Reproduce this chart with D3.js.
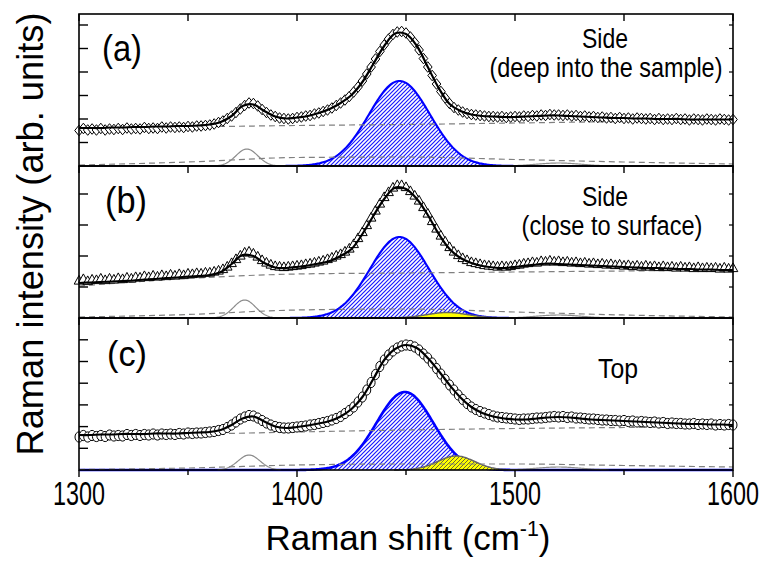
<!DOCTYPE html>
<html>
<head>
<meta charset="utf-8">
<style>
  body { margin: 0; background: #fff; }
  text { font-family: "Liberation Sans", Arial, sans-serif; fill: #000; }
</style>
</head>
<body>
<svg id="chart" width="762" height="567"></svg>
<script src="https://d3js.org/d3.v7.min.js"></script>
<script>
// ---- data (intensity in arb. units) ----
var xTicks = [1300, 1400, 1500, 1600];
var xMinorTicks = [1350, 1450, 1550];
var panelLabels = ["(a)", "(b)", "(c)"];
var panelNotes = [["Side", "(deep into the sample)"], ["Side", "(close to surface)"], ["Top"]];
var yTicksA = [23.5, 47, 70.5, 94, 117.5, 141];
var yTicksB = [31, 62, 93, 124];
var yTicksC = [21.7, 43.4, 65.1, 86.8, 108.5, 130.2];

// measured spectra, 1300..1600 cm-1 every 2 cm-1 (one row = 20 cm-1)
var intensityA = [
  35.5, 37.5, 36, 37, 36, 37.5, 36, 37, 36.5, 37.5,
  36.5, 38, 37, 37.5, 37, 38.5, 37.5, 38, 37.5, 39,
  38, 39, 38.5, 39, 38.5, 39.5, 39, 40, 40, 40.5,
  41, 42, 43.5, 45, 47.5, 50, 53.5, 57, 60.5, 63,
  62.5, 60, 56.5, 53.5, 51, 49.5, 48, 47.5, 47, 47.5,
  48.5, 49, 50, 50.5, 52, 53, 54.5, 56, 58, 60.5,
  63, 66, 69.5, 74, 79, 85, 92, 99, 107, 114.5,
  121, 127, 131.5, 134, 134.5, 133, 129, 123.5, 116, 107.5,
  99, 90.5, 82, 74.5, 68, 62.5, 58.5, 56, 54, 52.5,
  51.5, 51, 50.5, 50, 49.5, 49.5, 49, 49.5, 48.5, 49,
  49.5, 49, 50, 49.5, 50.5, 50, 51, 50.5, 51.5, 51,
  51, 50.5, 51, 50, 50.5, 49.5, 50, 49, 49.5, 48.5,
  49, 48, 48.5, 47.5, 48.5, 47.5, 48, 47, 48, 47.5,
  47, 47.5, 46.5, 47.5, 46.5, 47, 46.5, 47.5, 46.5, 47,
  46, 47, 46.5, 46, 47, 46.5, 46, 47, 46.5, 46,
  46.5];
var intensityB = [
  37, 38.5, 36.5, 38, 37.5, 39, 37.5, 39, 38, 39.5,
  38.5, 40, 39, 40.5, 40, 41.5, 40.5, 42, 41, 42.5,
  41.5, 43, 42, 43.5, 42.5, 44, 43.5, 44.5, 44, 45,
  45, 46, 47, 48.5, 51, 54.5, 58.5, 62, 65, 66,
  64, 61, 57.5, 55, 53, 51.5, 51, 50.5, 51, 51.5,
  52, 52.5, 53.5, 54, 55, 56, 57, 58.5, 60, 62,
  63.5, 66, 69, 73.5, 79.5, 85.5, 92.5, 100, 107, 114,
  120.5, 125.5, 130, 132.5, 132.5, 130.5, 126.5, 122, 117, 110.5,
  104, 96.5, 89, 82, 76, 70.5, 66, 62.5, 59.5, 57.5,
  55.5, 54.5, 53.5, 52.5, 52, 51.5, 51, 51.5, 51, 51.5,
  52.5, 53, 54, 54.5, 55.5, 55, 56.5, 56, 57, 56,
  56.5, 55.5, 56, 55, 55.5, 54.5, 55, 54, 54.5, 53.5,
  54, 53, 53.5, 52.5, 53, 52, 52.5, 51.5, 52, 51,
  52, 51, 51.5, 50.5, 51.5, 50.5, 51, 50, 51, 50,
  50.5, 49.5, 50.5, 49.5, 50, 49.5, 50, 49, 50, 49,
  49.5];
var intensityC = [
  33, 34.5, 33, 34.5, 33.5, 34.5, 33.5, 35, 34, 34.5,
  34, 35.5, 34.5, 35.5, 34.5, 35.5, 35, 36, 35, 36,
  35.5, 36, 35.5, 36.5, 36, 37, 36.5, 37, 37, 37.5,
  38, 38.5, 39.5, 40.5, 42.5, 45, 48, 51, 53, 54.5,
  54, 52, 49.5, 47, 45, 43.5, 42.5, 42, 42, 42.5,
  43, 43.5, 44, 45, 45.5, 46.5, 47.5, 48.5, 50, 51.5,
  53.5, 56.5, 59.5, 63, 68, 73, 80, 87.5, 95.5, 103.5,
  110, 115, 119, 122, 124, 125, 124.5, 123, 120, 116,
  112, 107, 101.5, 96, 90.5, 85, 80, 75, 70.5, 66.5,
  63, 60.5, 58.5, 57, 55.5, 54, 53, 52.5, 52, 51.5,
  51, 50.5, 51, 51, 51.5, 52, 52, 52.5, 53, 53.5,
  53, 53.5, 52.5, 53, 52, 52, 51.5, 51, 51, 50.5,
  50, 50, 49.5, 49.5, 49, 49.5, 48.5, 49, 48, 48.5,
  48, 47.5, 48, 47, 47.5, 46.5, 47, 46.5, 46.5, 46,
  46, 46.5, 45.5, 46, 45.5, 46, 45, 45.5, 45, 45.5,
  45];

// total fit, every 5 cm-1
var fitA = [
  38, 38, 38, 38.5, 38.5, 39, 39, 39.5, 39.5, 40,
  40, 40.5, 41.5, 44, 50, 60, 61.5, 55, 49.5, 47.5,
  48.5, 50, 53, 57, 63, 71, 84, 102, 120, 132.5,
  132, 120, 99, 78, 62, 55, 51.5, 50, 49.5, 49,
  49, 49.5, 50, 50.5, 50.5, 50, 49.5, 49, 48.5, 48,
  48, 47.5, 47.5, 47, 47, 47, 46.5, 46.5, 46.5, 46.5,
  46.5];
var fitB = [
  35, 35.5, 36, 36.5, 37, 37.5, 38.5, 39, 40, 40.5,
  41.5, 42, 43, 46, 54, 63, 62, 55, 50.5, 50,
  51, 52.5, 54.5, 57, 62, 69, 84, 102, 119, 130.5,
  129, 119, 103, 84, 69, 60, 55, 52, 50.5, 50,
  51, 52.5, 53.5, 54.5, 54, 53.5, 53, 52.5, 52, 51.5,
  51, 50.5, 50, 50, 49.5, 49, 49, 48.5, 48.5, 48,
  48];
var fitC = [
  35, 35, 35.5, 35.5, 36, 36, 36, 36.5, 36.5, 36.5,
  37, 37.5, 38, 40, 45, 51.5, 53.5, 48.5, 43.5, 42,
  43, 44.5, 46.5, 49, 53.5, 61, 73, 91, 110, 121,
  125, 122, 112, 99, 85, 72.5, 63, 57, 53.5, 51.5,
  50.5, 50.5, 51.5, 52.5, 53, 52.5, 51.5, 50.5, 50, 49.5,
  49, 48.5, 48, 47.5, 47, 46.5, 46, 46, 45.5, 45.5,
  45];

// dashed background lines at 1300, 1350, ... 1600
var dashShift = [1300, 1350, 1400, 1450, 1500, 1550, 1600];
var upperDashA = [37, 39, 40.5, 41.5, 43, 44.5, 46];
var lowerDashA = [1, 4, 8.5, 9, 6.5, 4, 2];
var upperDashB = [32, 39.5, 44, 45, 46, 47, 48];
var lowerDashB = [1, 3.5, 8, 9, 6, 3, 1];
var upperDashC = [32, 35.5, 38, 40, 41.5, 42.5, 43.5];
var lowerDashC = [0.5, 2, 5, 6, 6, 4.5, 3];

// fitted Gaussian bands: centre (cm-1), height, width (sigma) for panels a, b, c
var blueCenter = [1447, 1447, 1449.5];
var blueHeight = [85, 81, 78];
var blueWidth = [14, 13.5, 13];
var grayCenter = [1377, 1376, 1378];
var grayHeight = [17, 18, 15];
var grayWidth = [5, 5, 5];
var weakCenter = [1520, 1520, 1520];
var weakHeight = [3, 3, 3];
var weakWidth = [10, 10, 10];
var yellowCenter = [1469, 1469, 1473];
var yellowHeight = [0, 5.5, 14];
var yellowWidth = [9, 9.5, 8.5];

// ---- drawing ----
var svg = d3.select("#chart");
var left = 79, right = 733;
var panelTop = [14, 166, 318];
var panelH = 152;
var yMax = 152;
var x = d3.scaleLinear().domain([1300, 1600]).range([left, right]);

var shift = d3.range(1300, 1600.001, 2);
var fitShift = d3.range(1300, 1600.001, 5);
var fine = d3.range(1300, 1600.001, 0.5);

var intensities = [intensityA, intensityB, intensityC];
var fits = [fitA, fitB, fitC];
var upperDash = [upperDashA, upperDashB, upperDashC];
var lowerDash = [lowerDashA, lowerDashB, lowerDashC];
var yTicks = [yTicksA, yTicksB, yTicksC];

var defs = svg.append("defs");
var pb = defs.append("pattern").attr("id", "hatchBlue")
  .attr("patternUnits", "userSpaceOnUse").attr("width", 4).attr("height", 4);
pb.append("rect").attr("width", 4).attr("height", 4).attr("fill", "#fff");
pb.append("path").attr("d", "M-1,1 l2,-2 M0,4 l4,-4 M3,5 l2,-2")
  .attr("stroke", "#1a1aff").attr("stroke-width", 1.2);
var py = defs.append("pattern").attr("id", "hatchYellow")
  .attr("patternUnits", "userSpaceOnUse").attr("width", 4).attr("height", 4);
py.append("rect").attr("width", 4).attr("height", 4).attr("fill", "#ffff00");
py.append("path").attr("d", "M-1,1 l2,-2 M0,4 l4,-4 M3,5 l2,-2")
  .attr("stroke", "#5a5a3a").attr("stroke-width", 0.9);

function gauss(c, h, w) {
  return fine.map(function(s) { return [s, h * Math.exp(-0.5 * Math.pow((s - c) / w, 2))]; });
}

function squeeze(sel, cx, width) {
  var w = sel.node().getBBox().width;
  var k = width / w;
  sel.attr("transform", "translate(" + cx + ",0) scale(" + k + ",1) translate(" + (-cx) + ",0)");
}

var diamond = "M0,-5.3L4.3,0L0,5.3L-4.3,0Z";
var triangle = "M0,-5.6L4.8,3.1L-4.8,3.1Z";

panelTop.forEach(function(top, p) {
  var y = d3.scaleLinear().domain([0, yMax]).range([top + panelH, top]);
  var g = svg.append("g");
  var line = d3.line().x(function(d) { return x(d[0]); }).y(function(d) { return y(d[1]); });
  var area = d3.area().x(function(d) { return x(d[0]); }).y0(y(0)).y1(function(d) { return y(d[1]); });

  // blue band
  var blue = gauss(blueCenter[p], blueHeight[p], blueWidth[p]);
  g.append("path").datum(blue).attr("d", area).attr("fill", "url(#hatchBlue)");
  g.append("path").datum(blue).attr("d", line).attr("fill", "none")
    .attr("stroke", "#0000ff").attr("stroke-width", p == 2 ? 2.6 : 2.1);

  // yellow band
  if (yellowHeight[p] > 0) {
    var yel = gauss(yellowCenter[p], yellowHeight[p], yellowWidth[p])
      .filter(function(d) { return d[1] > 0.05; });
    g.append("path").datum(yel).attr("d", area).attr("fill", p == 2 ? "url(#hatchYellow)" : "#ffff00");
    g.append("path").datum(yel).attr("d", line).attr("fill", "none")
      .attr("stroke", "#666").attr("stroke-width", 1.5);
  }

  // gray bands
  var gray = gauss(grayCenter[p], grayHeight[p], grayWidth[p]);
  var weak = gauss(weakCenter[p], weakHeight[p], weakWidth[p]);
  if (p == 2) {
    gray = gray.filter(function(d) { return d[1] > 0.2; });
    weak = weak.filter(function(d) { return d[1] > 0.2; });
  }
  g.append("path").datum(gray).attr("d", line).attr("fill", "none")
    .attr("stroke", "#8c8c8c").attr("stroke-width", 1.2);
  g.append("path").datum(weak).attr("d", line).attr("fill", "none")
    .attr("stroke", "#8c8c8c").attr("stroke-width", 1.2);

  // dashed background lines
  var dashLine = d3.line().curve(d3.curveMonotoneX)
    .x(function(d) { return x(d[0]); }).y(function(d) { return y(d[1]); });
  [upperDash[p], lowerDash[p]].forEach(function(arr) {
    g.append("path").datum(dashShift.map(function(s, i) { return [s, arr[i]]; }))
      .attr("d", dashLine).attr("fill", "none")
      .attr("stroke", "#808080").attr("stroke-width", 1.2).attr("stroke-dasharray", "6,4");
  });

  // measured points
  var pts = shift.map(function(s, i) { return [s, intensities[p][i]]; });
  var mk = g.append("g").selectAll(".pt").data(pts).enter();
  if (p == 2) {
    mk.append("ellipse").attr("cx", function(d) { return x(d[0]); }).attr("cy", function(d) { return y(d[1]); })
      .attr("rx", 4).attr("ry", 5.1).attr("fill", "#fff").attr("stroke", "#000").attr("stroke-width", 1);
  } else {
    mk.append("path").attr("d", p == 0 ? diamond : triangle)
      .attr("transform", function(d) { return "translate(" + x(d[0]) + "," + y(d[1]) + ")"; })
      .attr("fill", "#fff").attr("stroke", "#000").attr("stroke-width", 1);
  }

  // total fit
  var fitLine = d3.line().curve(d3.curveCatmullRom)
    .x(function(d) { return x(d[0]); }).y(function(d) { return y(d[1]); });
  g.append("path").datum(fitShift.map(function(s, i) { return [s, fits[p][i]]; }))
    .attr("d", fitLine).attr("fill", "none").attr("stroke", "#000").attr("stroke-width", 2.2);

  // frame and ticks
  g.append("rect").attr("x", left).attr("y", top).attr("width", right - left).attr("height", panelH)
    .attr("fill", "none").attr("stroke", "#000").attr("stroke-width", 1.6);
  var ax = g.append("g");
  yTicks[p].forEach(function(t) {
    ax.append("line").attr("x1", left).attr("x2", left + 9).attr("y1", y(t)).attr("y2", y(t))
      .attr("stroke", "#000").attr("stroke-width", 1.4);
    ax.append("line").attr("x1", right).attr("x2", right - 4).attr("y1", y(t)).attr("y2", y(t))
      .attr("stroke", "#000").attr("stroke-width", 1.2);
  });
  xTicks.concat(xMinorTicks).forEach(function(t) {
    ax.append("line").attr("x1", x(t)).attr("x2", x(t)).attr("y1", top).attr("y2", top + 7)
      .attr("stroke", "#000").attr("stroke-width", 1.4);
  });

  // panel texts
  var lab = svg.append("text").attr("x", [122, 126, 127][p]).attr("y", [61, 213, 366][p])
    .attr("text-anchor", "middle").style("font-size", "36px").text(panelLabels[p]);
  squeeze(lab, [122, 126, 127][p], [40, 42, 40][p]);
  var notes = panelNotes[p];
  var noteX = [[605, 606], [605, 612], [618]][p];
  var noteY = [[48, 77], [206, 235], [378]][p];
  var noteW = [[46, 233], [46, 181], [40]][p];
  notes.forEach(function(n, i) {
    var t = svg.append("text").attr("x", noteX[i]).attr("y", noteY[i])
      .attr("text-anchor", "middle").style("font-size", "28px").text(n);
    squeeze(t, noteX[i], noteW[i]);
  });
});

// bottom axis
var bottom = panelTop[2] + panelH;
xTicks.forEach(function(t) {
  svg.append("line").attr("x1", x(t)).attr("x2", x(t)).attr("y1", bottom).attr("y2", bottom + 7)
    .attr("stroke", "#000").attr("stroke-width", 1.4);
  var tl = svg.append("text").attr("x", x(t)).attr("y", 505).attr("text-anchor", "middle")
    .style("font-size", "33px").text(t);
  squeeze(tl, x(t), 52);
});
xMinorTicks.forEach(function(t) {
  svg.append("line").attr("x1", x(t)).attr("x2", x(t)).attr("y1", bottom).attr("y2", bottom + 5)
    .attr("stroke", "#000").attr("stroke-width", 1.4);
});

// axis titles
var xt = svg.append("text").attr("x", 408).attr("y", 550).attr("text-anchor", "middle")
  .style("font-size", "36px");
xt.append("tspan").text("Raman shift (cm");
xt.append("tspan").attr("dy", -14).style("font-size", "22px").text("-1");
xt.append("tspan").attr("dy", 14).text(")");
squeeze(xt, 408, 285);

var yt = svg.append("text").attr("text-anchor", "middle").style("font-size", "37px")
  .text("Raman intensity (arb. units)");
var yw = yt.node().getBBox().width;
yt.attr("transform", "translate(43,234) rotate(-90) scale(" + (443 / yw) + ",1)");
</script>
</body>
</html>
